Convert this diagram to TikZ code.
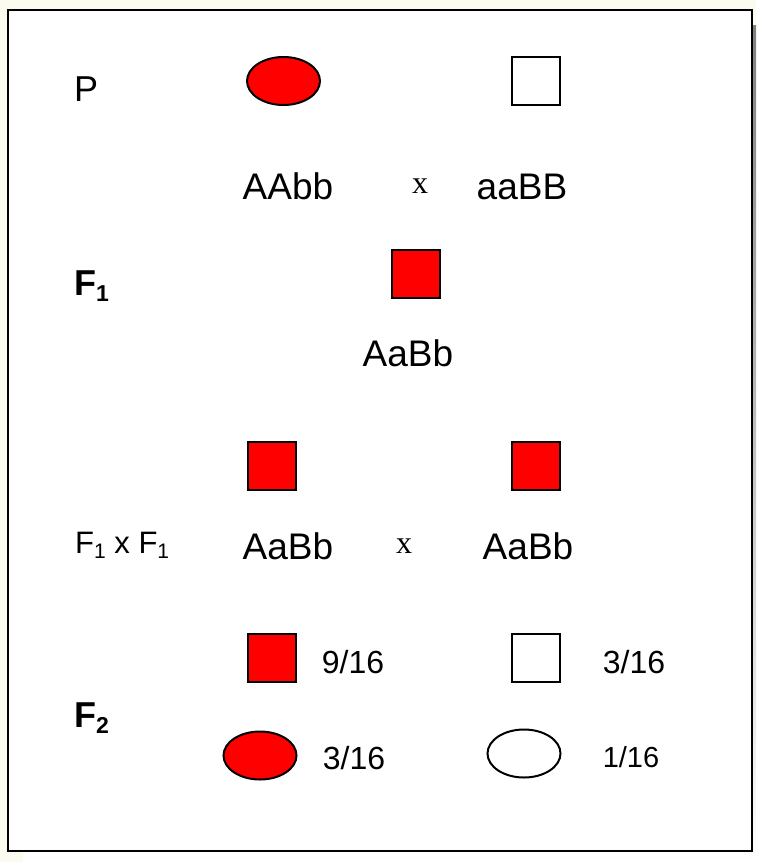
\documentclass[tikz,border=0pt]{standalone}
\usepackage{fontspec}
\setmainfont{Liberation Sans}
\newfontfamily\timesf{Liberation Serif}
\usetikzlibrary{shapes.geometric}
\definecolor{cream}{HTML}{FBFBEF}
\definecolor{shade}{HTML}{808080}
\definecolor{pred}{HTML}{FF0000}
\newcommand{\subs}[3]{\raisebox{-#2}{\fontsize{#3}{#3}\selectfont #1}}
\begin{document}
\begin{tikzpicture}[x=1pt,y=-1pt,
  sq/.style={draw=black, line width=2pt, rectangle, minimum size=48pt, inner sep=0pt},
  ell/.style={draw=black, line width=2pt, ellipse, minimum width=73pt, minimum height=48pt, inner sep=0pt},
  big/.style={inner sep=0pt, anchor=base, font=\fontsize{37}{40}\selectfont},
  mid/.style={inner sep=0pt, anchor=base, font=\fontsize{32}{36}\selectfont},
  small/.style={inner sep=0pt, anchor=base, font=\fontsize{29}{32}\selectfont},
  cross/.style={inner sep=0pt, anchor=base, font=\timesf\fontsize{32}{36}\selectfont},
  gen/.style={inner sep=0pt, anchor=base west}]
\useasboundingbox (0,0) rectangle (756,862);
\fill[cream] (0,0) rectangle (756,862);
\fill[shade] (23,25) rectangle (756,862);
\draw[fill=white, line width=2.5pt] (8,10) rectangle (752,851);

% P generation
\node[gen, font=\fontsize{36}{40}\selectfont] (lP) at (74,101.5) {P};
\node[ell, fill=pred] (p1) at (283.5,81) {};
\node[sq, fill=white] (p2) at (536,81) {};
\node[big] (g1) at (288,199) {AAbb};
\node[cross] (x1) at (420,193) {x};
\node[big] (g2) at (522,199) {aaBB};

% F1
\node[gen, font=\bfseries\fontsize{36}{40}\selectfont] (lF1) at (74,295) {F\subs{1}{6.5pt}{23}};
\node[sq, fill=pred] (f1) at (416,274) {};
\node[big] (g3) at (408,366) {AaBb};

% F1 x F1
\node[sq, fill=pred] (c1) at (272,466) {};
\node[sq, fill=pred] (c2) at (536,466) {};
\node[gen, font=\fontsize{31}{34}\selectfont] (lFF) at (75,553) {F\subs{1}{5pt}{21} x F\subs{1}{5pt}{21}};
\node[big] (g4) at (288,559) {AaBb};
\node[cross] (x2) at (404,553) {x};
\node[big] (g5) at (528,559) {AaBb};

% F2
\node[gen, font=\bfseries\fontsize{36}{40}\selectfont] (lF2) at (74,727) {F\subs{2}{6.5pt}{23}};
\node[sq, fill=pred] (r1) at (272,658) {};
\node[mid] (n1) at (353,673) {9/16};
\node[sq, fill=white] (r2) at (536,658) {};
\node[mid] (n2) at (634,673) {3/16};
\node[ell, fill=pred] (r3) at (260,755.5) {};
\node[mid] (n3) at (354,769) {3/16};
\node[ell, fill=white] (r4) at (524,753.5) {};
\node[small] (n4) at (631,767) {1/16};
\end{tikzpicture}
\end{document}
